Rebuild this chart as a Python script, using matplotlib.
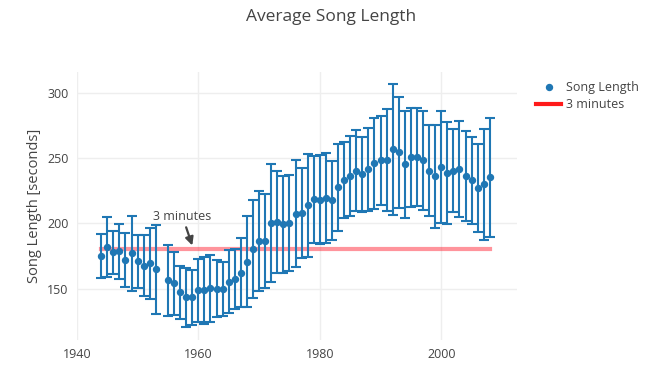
import matplotlib
matplotlib.use("Agg")
import matplotlib.pyplot as plt
from matplotlib.lines import Line2D

years = list(range(1944, 1954)) + list(range(1955, 2009))
mean_len = [175.1, 181.8, 177.7, 178.7, 171.8, 176.9, 170.8, 167.5, 169.3, 164.9,
            156.3, 154.0, 147.1, 143.3, 143.3, 148.6, 148.6, 150.2, 150.0, 149.7,
            155.2, 157.3, 162.1, 170.6, 180.2, 186.4, 186.4, 200.1, 201.1, 199.1,
            200.1, 207.2, 207.8, 213.7, 218.3, 218.0, 219.5, 217.7, 227.4, 233.0,
            236.3, 240.2, 237.4, 241.2, 245.8, 248.1, 248.4, 256.5, 254.2, 245.0,
            250.4, 250.6, 248.1, 240.2, 235.9, 243.0, 238.2, 240.2, 241.7, 236.1,
            232.8, 227.1, 229.7, 235.1]
std_len = [16.6, 23.2, 16.5, 21.0, 20.4, 29.0, 20.0, 23.5, 27.2, 34.0,
           27.0, 24.1, 20.0, 22.8, 20.8, 24.2, 25.5, 25.4, 21.6, 20.7,
           24.0, 23.0, 26.4, 35.0, 37.7, 38.3, 36.0, 45.4, 39.2, 37.3,
           37.0, 41.0, 34.4, 39.5, 33.2, 34.2, 34.3, 30.2, 33.5, 28.8,
           30.6, 30.8, 28.8, 31.7, 35.0, 34.0, 38.7, 49.9, 42.6, 41.2,
           38.0, 37.4, 37.8, 34.6, 39.3, 42.5, 38.9, 31.6, 36.6, 34.4,
           33.5, 33.5, 42.4, 45.5]
three_min = 180

blue = "#1f77b4"
grey = "#444444"
plt.rcParams["font.family"] = ["Open Sans", "DejaVu Sans"]

fig = plt.figure(figsize=(6.63, 3.75), dpi=100)
ax = fig.add_axes([0.116, 0.093, 0.664, 0.715])

ax.plot([years[0], years[-1]], [three_min, three_min], color="#ff2a3a", alpha=0.5, lw=3, zorder=2)
ax.errorbar(years, mean_len, yerr=std_len, fmt="o", color=blue, ms=4.3, elinewidth=1.5,
            capsize=3.8, capthick=1.5, zorder=3)

ax.annotate("3 minutes", xy=(1959, 183), xytext=(1957.4, 205), ha="center", va="center",
            fontsize=9, color=grey,
            arrowprops=dict(arrowstyle="-|>", color=grey, lw=1.6, shrinkA=1, shrinkB=0,
                            mutation_scale=12))

ax.set_xlim(1940, 2012.5)
ax.set_ylim(110.6, 315.7)
ax.set_xticks([1940, 1960, 1980, 2000])
ax.set_yticks([150, 200, 250, 300])
ax.grid(True, color="#eeeeee", lw=1)
ax.set_axisbelow(True)
for s in ax.spines.values():
    s.set_visible(False)
ax.tick_params(length=0, labelsize=9, colors=grey, pad=6)
ax.set_ylabel("Song Length [seconds]", fontsize=10.5, color=grey, labelpad=4)

fig.suptitle("Average Song Length", x=0.5, y=0.975, fontsize=12.5, color=grey)

handles = [Line2D([], [], marker="o", ls="none", color=blue, ms=4.3),
           Line2D([], [], color="#ff1a1a", lw=3)]
fig.legend(handles, ["Song Length", "3 minutes"], loc="upper left", bbox_to_anchor=(0.792, 0.814),
           frameon=False, fontsize=9, labelcolor=grey, handlelength=2.0, handletextpad=0.4,
           labelspacing=0.35)

fig.savefig("out.png", dpi=100)
